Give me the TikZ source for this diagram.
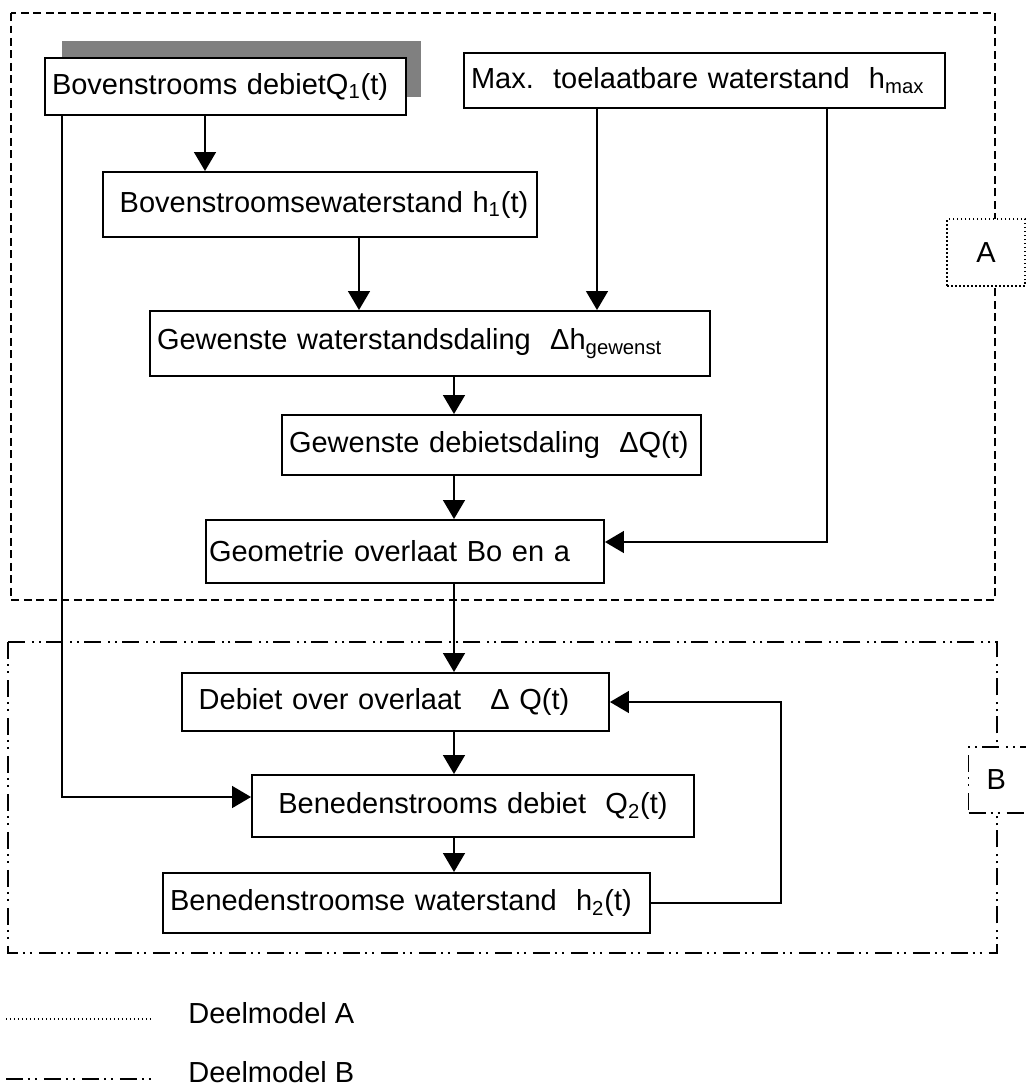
\documentclass[tikz,border=0pt]{standalone}
\usepackage{fontspec}
\setmainfont{Liberation Sans}
\usetikzlibrary{arrows.meta}

\begin{document}
\begin{tikzpicture}[x=0.02cm, y=-0.02cm,
    blok/.style={draw, line width=1.15pt, fill=white, inner xsep=0.14cm, align=left,
        font=\fontsize{16.5}{20}\selectfont},
    pijl/.style={line width=0.9pt, -{Triangle[length=0.38cm, width=0.44cm]}},
    lijn/.style={line width=0.9pt},
    deelA/.style={line width=0.6pt, dash pattern=on 0.16cm off 0.09cm},
    deelB/.style={line width=0.6pt, dash pattern=on 0.34cm off 0.1cm on 0.04cm off 0.1cm on 0.04cm off 0.14cm},
    stippel/.style={line width=0.6pt, dash pattern=on 0.03cm off 0.05cm}]

    % Fix the size of the picture
    \useasboundingbox (0,0) rectangle (1026,1089);

    % Columns of the connectors
    \coordinate (links) at (62,0);
    \coordinate (pijl1) at (205,0);
    \coordinate (pijl2) at (359,0);
    \coordinate (midden) at (454,0);
    \coordinate (maxpijl) at (597,0);
    \coordinate (rechts) at (827,0);
    \coordinate (terug) at (781,0);

    % Deelmodel A and B frames
    \draw[deelA] (11,13) rectangle (995,600);
    \draw[deelB] (8,642) rectangle (997,953);

    % Shadow behind the first block
    \fill[black!50] (62,41) rectangle (421,97);

    % Blocks of deelmodel A
    \node[blok, text width=6.94cm, minimum height=1.14cm] (debiet1) at (225.5,86.5)
        {Bovenstrooms debietQ\textsubscript{1}(t)};
    \node[blok, text width=9.34cm, minimum height=1.10cm] (hmax) at (704.5,80.5)
        {Max.\ \ toelaatbare waterstand\ \ h\textsubscript{max}};
    \node[blok, text width=8.40cm, minimum height=1.30cm] (h1) at (320,204.5)
        {\ Bovenstroomsewaterstand h\textsubscript{1}(t)};
    \node[blok, text width=10.92cm, minimum height=1.30cm] (dhgew) at (430,343.5)
        {Gewenste waterstandsdaling\ \ Δh\textsubscript{gewenst}};
    \node[blok, text width=8.10cm, minimum height=1.20cm] (dqgew) at (491.5,445)
        {Gewenste debietsdaling\ \ ΔQ(t)};
    \node[blok, text width=7.84cm, minimum height=1.26cm, inner xsep=0.06cm] (geom) at (405,551.5)
        {Geometrie overlaat Bo en a};

    % Blocks of deelmodel B
    \node[blok, text width=8.26cm, minimum height=1.16cm] (dqover) at (395.5,702)
        {\ Debiet over overlaat\ \ \ Δ Q(t)};
    \node[blok, text width=8.56cm, minimum height=1.24cm] (q2) at (473,806)
        {\ \ Benedenstrooms debiet\ \ Q\textsubscript{2}(t)};
    \node[blok, text width=9.46cm, minimum height=1.20cm] (h2) at (406.5,903)
        {Benedenstroomse waterstand\ \ h\textsubscript{2}(t)};

    % Labels A and B on the frames
    \node[stippel, draw, fill=white, minimum width=1.56cm, minimum height=1.34cm,
        font=\fontsize{16.5}{20}\selectfont] (labelA) at (986,252.5) {A};
    \node[deelB, draw, fill=white, anchor=west, inner xsep=0.36cm, text width=1.2cm, align=left,
        minimum height=1.32cm, font=\fontsize{16.5}{20}\selectfont] (labelB) at (968,780) {B};

    % Connectors in deelmodel A
    \draw[pijl] (debiet1.south -| pijl1) -- (h1.north -| pijl1);
    \draw[pijl] (h1.south -| pijl2) -- (dhgew.north -| pijl2);
    \draw[pijl] (hmax.south -| maxpijl) -- (dhgew.north -| maxpijl);
    \draw[pijl] (dhgew.south -| midden) -- (dqgew.north -| midden);
    \draw[pijl] (dqgew.south -| midden) -- (geom.north -| midden);
    \draw[pijl] (hmax.south -| rechts) |- ([yshift=0.19cm]geom.east);

    % Connectors in deelmodel B
    \draw[pijl] (geom.south -| midden) -- (dqover.north -| midden);
    \draw[pijl] (dqover.south -| midden) -- (q2.north -| midden);
    \draw[pijl] (q2.south -| midden) -- (h2.north -| midden);
    \draw[pijl] (debiet1.south -| links) |- ([yshift=0.18cm]q2.west);
    \draw[pijl] (h2.east) -- (h2.east -| terug) -- (dqover.east -| terug) -- (dqover.east);

    % Legend
    \coordinate (legA) at (6,1019);
    \coordinate (legB) at (6,1079);
    \draw[stippel] (legA) -- ++(146,0);
    \draw[deelB] (legB) -- ++(146,0);
    \node[anchor=west, inner sep=0pt, font=\fontsize{16.5}{20}\selectfont] (tekstA) at (188,1013) {Deelmodel A};
    \node[anchor=west, inner sep=0pt, font=\fontsize{16.5}{20}\selectfont] (tekstB) at (188,1072) {Deelmodel B};

\end{tikzpicture}
\end{document}
